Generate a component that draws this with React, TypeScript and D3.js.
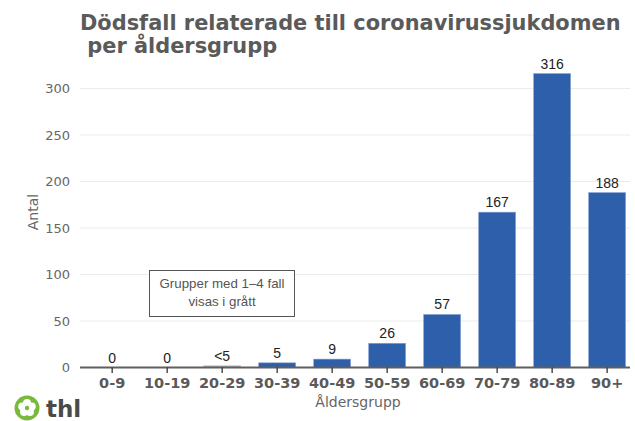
import React from "react";
import * as d3 from "d3";

const categories = ["0-9", "10-19", "20-29", "30-39", "40-49", "50-59", "60-69", "70-79", "80-89", "90+"];
const values = [0, 0, 2, 5, 9, 26, 57, 167, 316, 188];
const labels = ["0", "0", "<5", "5", "9", "26", "57", "167", "316", "188"];
const suppressed = [false, false, true, false, false, false, false, false, false, false];
const yTicks = [0, 50, 100, 150, 200, 250, 300];

const W = 635;
const H = 421;

export default function App() {
  const x = d3.scaleBand<string>().domain(categories).range([80, 639.3]).paddingInner(0.33).paddingOuter(0.25);
  const y = d3.scaleLinear().domain([0, 300]).range([367.5, 88.5]);
  const gridX0 = 80;
  const gridX1 = 630;
  const petals = d3.range(5).map((i) => (i * 72 - 90) * Math.PI / 180);

  return (
    <svg width={W} height={H} style={{ position: "absolute", left: 0, top: 0, background: "#fff" }}>
      <g fontFamily="DejaVu Sans, sans-serif" fontWeight="bold" fill="#5a5a5a" fontSize={20.9}>
        <text x={80} y={30}>Dödsfall relaterade till coronavirussjukdomen</text>
        <text x={80} y={53} style={{ whiteSpace: "pre" }}>{" per åldersgrupp"}</text>
      </g>
      {yTicks.map((t) => (
        <g key={t}>
          {t > 0 && <line x1={gridX0} x2={gridX1} y1={y(t)} y2={y(t)} stroke="#ebebeb" strokeWidth={1} />}
          <text x={70} y={y(t)} dy="0.35em" textAnchor="end" fontFamily="DejaVu Sans, sans-serif" fontSize={13} fill="#666">{t}</text>
        </g>
      ))}
      {categories.map((c, i) => (
        <rect key={c} x={x(c)} y={y(values[i])} width={x.bandwidth()} height={y(0) - y(values[i])}
          fill={suppressed[i] ? "#b3b3b3" : "#2e5faa"} stroke={suppressed[i] ? "#cfcfcf" : "#7f9ccd"} strokeWidth={0.6} />
      ))}
      <line x1={gridX0} x2={gridX1} y1={y(0)} y2={y(0)} stroke="#5f5f5f" strokeWidth={2} />
      {categories.map((c, i) => {
        const cx = (x(c) as number) + x.bandwidth() / 2;
        return (
          <g key={c + "t"}>
            <line x1={cx} x2={cx} y1={y(0)} y2={y(0) + 5.5} stroke="#333" strokeWidth={1.3} />
            <text x={cx} y={y(values[i]) - 5} textAnchor="middle" fontFamily="Liberation Sans, Arial, sans-serif" fontSize={14} fill="#222">{labels[i]}</text>
            <text x={cx} y={388} textAnchor="middle" fontFamily="DejaVu Sans, sans-serif" fontWeight="bold" fontSize={14.5} fill="#5a5a5a">{c}</text>
          </g>
        );
      })}
      <text x={358} y={407} textAnchor="middle" fontFamily="DejaVu Sans, sans-serif" fontSize={14} fill="#666">Åldersgrupp</text>
      <text transform="translate(38,212) rotate(-90)" textAnchor="middle" fontFamily="DejaVu Sans, sans-serif" fontSize={14} fill="#666">Antal</text>
      <rect x={149.5} y={270.5} width={145} height={46} fill="#fff" stroke="#555" strokeWidth={1} />
      <text x={222} y={288} textAnchor="middle" fontFamily="Liberation Sans, Arial, sans-serif" fontSize={13.3} fill="#555">Grupper med 1–4 fall</text>
      <text x={222} y={306} textAnchor="middle" fontFamily="Liberation Sans, Arial, sans-serif" fontSize={13.3} fill="#555">visas i grått</text>
      <g>
        <circle cx={27} cy={408} r={12.5} fill="#79b93c" />
        {petals.map((a, i) => (
          <circle key={i} cx={27 + Math.cos(a) * 5} cy={408 + Math.sin(a) * 5} r={4} fill="#fff" />
        ))}
        <circle cx={27} cy={408} r={2.2} fill="#79b93c" />
        <text x={46} y={417} fontFamily="DejaVu Sans, sans-serif" fontWeight="bold" fontSize={23} fill="#4a4a4a">thl</text>
      </g>
    </svg>
  );
}
